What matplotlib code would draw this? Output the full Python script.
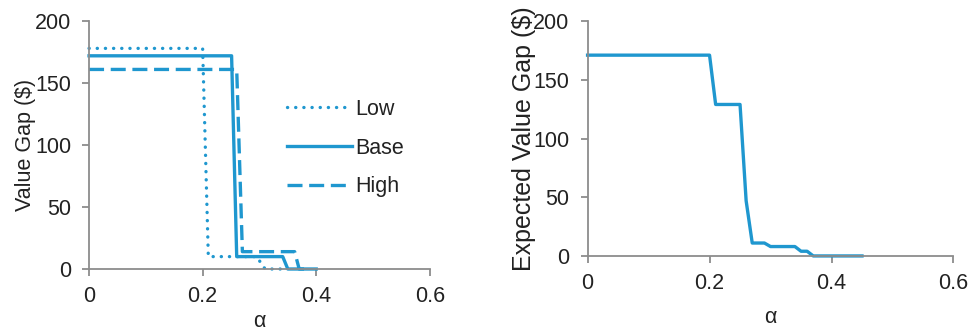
import matplotlib
matplotlib.use("Agg")
import matplotlib.pyplot as plt

plt.rcParams['font.family'] = ['Liberation Sans', 'DejaVu Sans']

# Left panel data
low_x = [0, 0.20, 0.21, 0.295, 0.31, 0.34]
low_y = [178, 178, 10, 10, 0, 0]
base_x = [0, 0.251, 0.26, 0.341, 0.35, 0.40]
base_y = [172, 172, 10, 10, 0, 0]
high_x = [0, 0.26, 0.27, 0.362, 0.37, 0.38]
high_y = [161, 161, 14, 14, 0, 0]

# Right panel data
exp_x = [0, 0.20, 0.21, 0.25, 0.26, 0.27, 0.29, 0.30, 0.34, 0.35, 0.36, 0.37, 0.45]
exp_y = [171, 171, 129, 129, 47, 11, 11, 8, 8, 4, 4, 0, 0]

xticks = [0, 0.2, 0.4, 0.6]
xticklabels = ['0', '0.2', '0.4', '0.6']
yticks = [0, 50, 100, 150, 200]

color = '#1f97cf'
grey = '#8c8c8c'
fs = 15.5

fig = plt.figure(figsize=(9.68, 3.35), dpi=100)
ax1 = fig.add_axes([0.092, 0.197, 0.352, 0.740])
ax2 = fig.add_axes([0.607, 0.236, 0.378, 0.701])

def style(ax):
    for s in ['top', 'right']:
        ax.spines[s].set_visible(False)
    for s in ['left', 'bottom']:
        ax.spines[s].set_color(grey)
        ax.spines[s].set_linewidth(1.3)
    ax.set_xlim(0, 0.6)
    ax.set_ylim(0, 200)
    ax.set_xticks(xticks)
    ax.set_xticklabels(xticklabels)
    ax.set_yticks(yticks)
    ax.tick_params(axis='both', colors=grey, labelcolor='#222222', labelsize=fs,
                   length=5, width=1.3, direction='out')
    ax.tick_params(axis='x', pad=7)
    ax.tick_params(axis='y', pad=8)

style(ax1)
style(ax2)

lw = 2.4
ax1.plot(low_x, low_y, color=color, lw=lw, linestyle=(0, (0.05, 2.4)), dash_capstyle='round', label='Low', clip_on=False)
ax1.plot(base_x, base_y, color=color, lw=lw, linestyle='-', label='Base', clip_on=False)
ax1.plot(high_x, high_y, color=color, lw=lw, linestyle=(0, (4.5, 2.0)), label='High', clip_on=False)

ax2.plot(exp_x, exp_y, color=color, lw=lw, clip_on=False)

ax1.set_ylabel('Value Gap ($)', fontsize=fs, color='#222222', labelpad=-1)
ax1.set_xlabel('α', fontsize=fs, color='#222222', labelpad=3)
ax2.set_ylabel('Expected Value Gap ($)', fontsize=18, color='#222222', labelpad=-2)
ax2.set_xlabel('α', fontsize=fs, color='#222222', labelpad=10)

leg = ax1.legend(loc='upper left', bbox_to_anchor=(0.525, 0.765), frameon=False,
                 fontsize=fs, handlelength=3.0, handletextpad=0.15, labelspacing=0.83,
                 labelcolor='#222222')

fig.savefig('out.png', dpi=100)
